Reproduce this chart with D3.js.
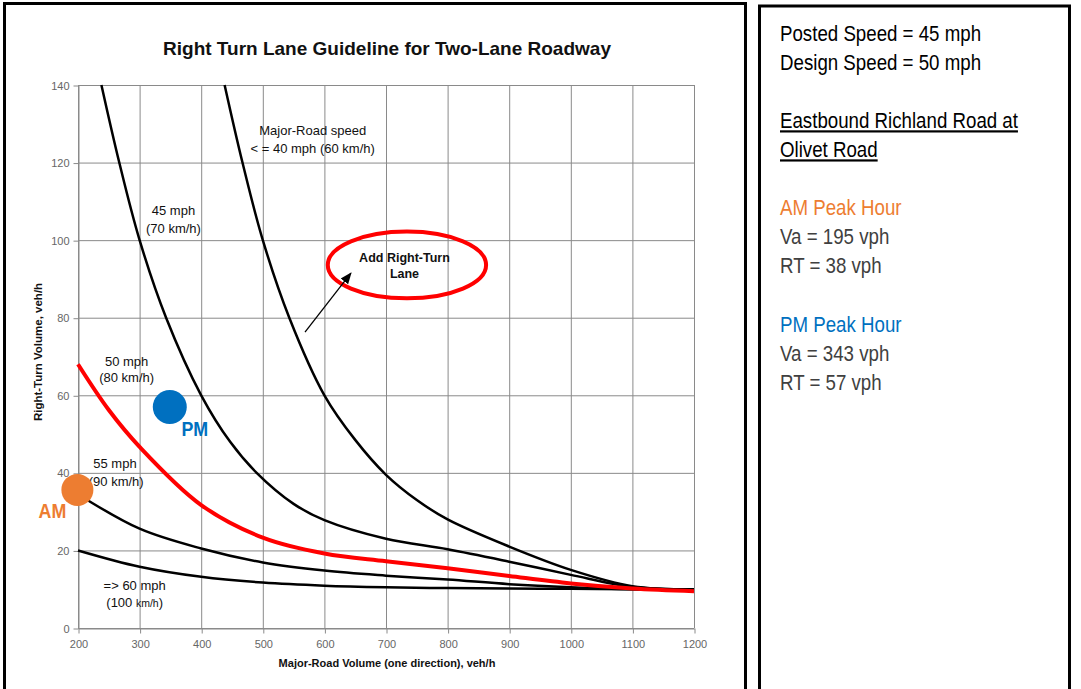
<!DOCTYPE html>
<html>
<head>
<meta charset="utf-8">
<script src="https://cdn.jsdelivr.net/npm/d3@7"></script>
<style>
  body { margin: 0; background: #fff; }
  svg { display: block; }
</style>
</head>
<body>
<div id="chart"></div>
<script>
// curves: major-road volume (veh/h) and right-turn volume (veh/h)
let speed40Vol = [438, 467, 500, 543, 600, 650, 700, 750, 800, 900, 1000, 1100, 1200];
let speed40RT = [140, 120, 100, 80, 60, 48.5, 39.5, 33, 28, 21, 15, 10.8, 10];

let speed45Vol = [238, 267, 300, 343, 400, 447, 490, 550, 600, 700, 800, 900, 1000, 1100, 1200];
let speed45RT = [140, 120, 100, 80, 60, 48, 40, 32, 27.8, 23, 20.3, 17.1, 13.7, 10.6, 10];

let speed50Vol = [200, 250, 300, 400, 500, 600, 700, 800, 900, 1000, 1100, 1200];
let speed50RT = [68, 56.2, 46.7, 31.7, 23.3, 19.2, 17.2, 15.4, 13.4, 11.5, 10.2, 9.5];

let speed55Vol = [200, 300, 400, 500, 600, 700, 800, 900, 1000, 1100, 1200];
let speed55RT = [34.5, 25.6, 20.5, 16.9, 14.8, 13.5, 12.5, 11.3, 10.5, 10, 9.9];

let speed60Vol = [200, 300, 400, 500, 600, 700, 800, 900, 1000, 1100, 1200];
let speed60RT = [20, 15.8, 13.2, 11.7, 10.9, 10.5, 10.3, 10.2, 10.1, 10, 10];

// peak hour points as plotted
let peakNames = ["AM", "PM"];
let peakVol = [199, 349];
let peakRT = [35.6, 57];
let peakColors = ["#ed7d31", "#0070c0"];

let xTicks = [200, 300, 400, 500, 600, 700, 800, 900, 1000, 1100, 1200];
let yTicks = [0, 20, 40, 60, 80, 100, 120, 140];

let infoLines = [
  { text: "Posted Speed = 45 mph", color: "#000", u: false },
  { text: "Design Speed = 50 mph", color: "#000", u: false },
  { text: "", color: "#000", u: false },
  { text: "Eastbound Richland Road at", color: "#000", u: true },
  { text: "Olivet Road", color: "#000", u: true },
  { text: "", color: "#000", u: false },
  { text: "AM Peak Hour", color: "#ed7d31", u: false },
  { text: "Va = 195 vph", color: "#404040", u: false },
  { text: "RT = 38 vph", color: "#404040", u: false },
  { text: "", color: "#000", u: false },
  { text: "PM Peak Hour", color: "#0070c0", u: false },
  { text: "Va = 343 vph", color: "#404040", u: false },
  { text: "RT = 57 vph", color: "#404040", u: false }
];

let width = 1081,
  height = 689;
let font = "'Liberation Sans', Arial, sans-serif";
let squeeze = 0.85; // no narrow face installed, so condensed text is squeezed

let svg = d3
  .select("#chart")
  .append("svg")
  .attr("width", width)
  .attr("height", height)
  .style("background", "#fff");

// frames
svg.append("rect").attr("x", 4.5).attr("y", 3.5).attr("width", 741).attr("height", 720)
  .attr("fill", "none").attr("stroke", "#000").attr("stroke-width", 3);
svg.append("rect").attr("x", 759.5).attr("y", 6).attr("width", 310).attr("height", 720)
  .attr("fill", "none").attr("stroke", "#000").attr("stroke-width", 3);

let xScale = d3.scaleLinear().domain([200, 1200]).range([78, 694]);
let yScale = d3.scaleLinear().domain([0, 140]).range([628, 85]);

let defs = svg.append("defs");
defs.append("clipPath").attr("id", "plot")
  .append("rect").attr("x", 70).attr("y", 80).attr("width", 630).attr("height", 552);

// gridlines
let grid = svg.append("g").attr("stroke", "#8a8a8a").attr("stroke-width", 1);
grid.selectAll(".vx").data(xTicks).enter().append("line")
  .attr("x1", (d) => xScale(d) + 0.5).attr("x2", (d) => xScale(d) + 0.5)
  .attr("y1", yScale(0)).attr("y2", yScale(140));
grid.selectAll(".hy").data(yTicks).enter().append("line")
  .attr("x1", xScale(200)).attr("x2", xScale(1200))
  .attr("y1", (d) => yScale(d) + 0.5).attr("y2", (d) => yScale(d) + 0.5);

let xAxis = d3.axisBottom(xScale).tickValues(xTicks).tickSize(5).tickSizeOuter(0).tickFormat(d3.format("d"));
let yAxis = d3.axisLeft(yScale).tickValues(yTicks).tickSize(5).tickSizeOuter(0).tickFormat(d3.format("d"));

let gx = svg.append("g").attr("transform", "translate(0.5," + (yScale(0) + 0.5) + ")").call(xAxis);
let gy = svg.append("g").attr("transform", "translate(" + (xScale(200) + 0.5) + ",0.5)").call(yAxis);
[gx, gy].forEach(function (g) {
  g.select(".domain").attr("stroke", "#8a8a8a");
  g.selectAll(".tick line").attr("stroke", "#8a8a8a");
  g.selectAll(".tick text").attr("fill", "#666").style("font-family", font).style("font-size", "11px");
});
gx.selectAll(".tick text").attr("y", 12);
gy.selectAll(".tick text").attr("x", -9);

// titles
svg.append("text").attr("x", 387).attr("y", 55).attr("text-anchor", "middle")
  .style("font-family", font).style("font-size", "19px").style("font-weight", "bold")
  .attr("fill", "#111").text("Right Turn Lane Guideline for Two-Lane Roadway");
svg.append("text").attr("x", 387).attr("y", 667).attr("text-anchor", "middle")
  .style("font-family", font).style("font-size", "11px").style("font-weight", "bold")
  .attr("fill", "#111").text("Major-Road Volume (one direction), veh/h");
svg.append("text").attr("transform", "translate(42,352) rotate(-90)").attr("text-anchor", "middle")
  .style("font-family", font).style("font-size", "11.5px").style("font-weight", "bold")
  .attr("fill", "#111").text("Right-Turn Volume, veh/h");

// curves
let line = d3.line()
  .x((d) => xScale(d[0]))
  .y((d) => yScale(d[1]))
  .curve(d3.curveCatmullRom.alpha(0.5));

let curves = [
  { vol: speed40Vol, rt: speed40RT, color: "#000", w: 2.5 },
  { vol: speed45Vol, rt: speed45RT, color: "#000", w: 2.5 },
  { vol: speed60Vol, rt: speed60RT, color: "#000", w: 2.5 },
  { vol: speed55Vol, rt: speed55RT, color: "#000", w: 2.5 },
  { vol: speed50Vol, rt: speed50RT, color: "#ff0000", w: 4 }
];

let plot = svg.append("g").attr("clip-path", "url(#plot)");
plot.selectAll("path.curve").data(curves).enter().append("path")
  .attr("class", "curve")
  .attr("d", (c) => line(c.vol.map((v, i) => [v, c.rt[i]])))
  .attr("fill", "none")
  .attr("stroke", (c) => c.color)
  .attr("stroke-width", (c) => c.w);

// curve labels
let labels = [
  ["Major-Road speed", 581, 128.2],
  ["< = 40 mph (60 km/h)", 581, 123.7],
  ["45 mph", 355, 107.6],
  ["(70 km/h)", 355, 103],
  ["50 mph", 279, 68.8],
  ["(80 km/h)", 279, 64.5],
  ["55 mph", 260, 42.5],
  ["(90 km/h)", 262, 37.9],
  ["=> 60 mph", 292, 10.9]
];
svg.selectAll("text.lbl").data(labels).enter().append("text")
  .attr("class", "lbl")
  .attr("x", (d) => xScale(d[1]))
  .attr("y", (d) => yScale(d[2]))
  .attr("dy", "0.35em")
  .attr("text-anchor", "middle")
  .style("font-family", font).style("font-size", "13px")
  .attr("fill", "#111")
  .text((d) => d[0]);
let kmh = svg.append("text").attr("x", xScale(292)).attr("y", yScale(6.5)).attr("dy", "0.35em")
  .attr("text-anchor", "middle").style("font-family", font).style("font-size", "13px").attr("fill", "#111");
kmh.append("tspan").text("(100 ");
kmh.append("tspan").style("font-size", "10.5px").text("km/h");
kmh.append("tspan").text(")");

// add right-turn lane callout
svg.append("ellipse")
  .attr("cx", xScale(734)).attr("cy", yScale(93.6))
  .attr("rx", xScale(734 + 128.5) - xScale(734)).attr("ry", yScale(93.6 - 8.6) - yScale(93.6))
  .attr("fill", "none").attr("stroke", "#ff0000").attr("stroke-width", 4);
svg.append("text").attr("x", xScale(730)).attr("y", yScale(95.4)).attr("dy", "0.35em")
  .attr("text-anchor", "middle").style("font-family", font).style("font-size", "12.5px")
  .style("font-weight", "bold").attr("fill", "#111").text("Add Right-Turn");
svg.append("text").attr("x", xScale(730)).attr("y", yScale(91.3)).attr("dy", "0.35em")
  .attr("text-anchor", "middle").style("font-family", font).style("font-size", "12.5px")
  .style("font-weight", "bold").attr("fill", "#111").text("Lane");

defs.append("marker").attr("id", "head")
  .attr("viewBox", "0 0 10 10").attr("refX", 9).attr("refY", 5)
  .attr("markerWidth", 9).attr("markerHeight", 9).attr("orient", "auto")
  .append("path").attr("d", "M0,1 L10,5 L0,9 Z").attr("fill", "#000");
svg.append("line")
  .attr("x1", xScale(568.5)).attr("y1", yScale(76.3))
  .attr("x2", xScale(643)).attr("y2", yScale(91.5))
  .attr("stroke", "#000").attr("stroke-width", 1.3)
  .attr("marker-end", "url(#head)");

// peak hour points
let peaks = peakNames.map((n, i) => ({ name: n, vol: peakVol[i], rt: peakRT[i], color: peakColors[i] }));
svg.selectAll("circle.peak").data(peaks).enter().append("circle")
  .attr("class", "peak")
  .attr("cx", (d) => xScale(d.vol))
  .attr("cy", (d) => yScale(d.rt))
  .attr("r", (d, i) => (i === 0 ? 16 : 17))
  .attr("fill", (d) => d.color);
svg.selectAll("text.peak").data(peaks).enter().append("text")
  .attr("class", "peak")
  .attr("transform", (d, i) =>
    "translate(" + (xScale(d.vol) + (i === 0 ? -25 : 25)) + "," +
    (yScale(d.rt) + (i === 0 ? 28 : 29)) + ") scale(" + squeeze + ",1)")
  .attr("text-anchor", "middle")
  .style("font-family", font).style("font-size", "21px").style("font-weight", "bold")
  .attr("fill", (d) => d.color)
  .text((d) => d.name);

// info panel
svg.selectAll("text.info").data(infoLines).enter().append("text")
  .attr("class", "info")
  .attr("transform", (d, i) => "translate(780," + (41 + i * 29.05) + ") scale(" + squeeze + ",1)")
  .style("font-family", font).style("font-size", "22px")
  .style("text-decoration", (d) => (d.u ? "underline" : "none"))
  .attr("fill", (d) => d.color)
  .text((d) => d.text);
</script>
</body>
</html>
